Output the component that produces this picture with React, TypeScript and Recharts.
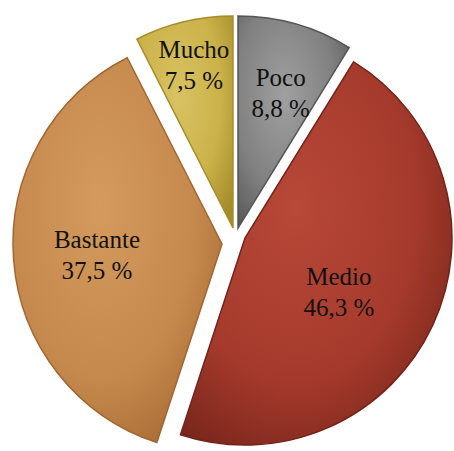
import { PieChart, Pie, Cell } from "recharts"

const categories = ["Poco", "Medio", "Bastante", "Mucho"]
const percents = [8.8, 46.3, 37.5, 7.5]
const percentLabels = ["8,8 %", "46,3 %", "37,5 %", "7,5 %"]

const data = categories.map((name, i) => ({ name, value: percents[i], label: percentLabels[i] }))

// look of each slice (style only)
const GRADIENTS = [
  { id: "g-poco", light: "#a0a0a0", base: "#808080", dark: "#555555" },
  { id: "g-medio", light: "#b84838", base: "#a53a2c", dark: "#74231a" },
  { id: "g-bastante", light: "#d49a5e", base: "#c6894d", dark: "#a36630" },
  { id: "g-mucho", light: "#d9c262", base: "#cbb24a", dark: "#a68d2a" },
]
// exploded centre of every slice, its radius, and where its label sits
const CENTERS = [
  [238, 228],
  [245, 238],
  [222, 244],
  [233, 228],
]
const RADII = [212, 207, 209, 212]
const LABEL_R = [0.67, 0.5, 0.6, 0.79]
const LABEL_SHIFT = [[4, 0], [0, 8], [0, -1], [0, -2]]
const RAD = Math.PI / 180
const FONT = "Liberation Serif, Times New Roman, DejaVu Serif, serif"

function makeLabel(slice: number) {
  return (props: any) => {
    const { cx, cy, midAngle, outerRadius, index } = props
    if (index !== slice) return null
    const r = outerRadius * LABEL_R[slice]
    const x = cx + r * Math.cos(-midAngle * RAD) + LABEL_SHIFT[slice][0]
    const y = cy + r * Math.sin(-midAngle * RAD) + LABEL_SHIFT[slice][1]
    return (
      <text x={x} y={y} textAnchor="middle" fill="#111" style={{ fontFamily: FONT, fontSize: 25 }}>
        <tspan x={x} dy={-5}>{data[index].name}</tspan>
        <tspan x={x} dy={31}>{data[index].label}</tspan>
      </text>
    )
  }
}

export default function App() {
  return (
    <div style={{ width: 454, height: 451, background: "#fff" }}>
      <style>{"body{margin:0}"}</style>
      <PieChart width={454} height={451} margin={{ top: 0, right: 0, bottom: 0, left: 0 }}>
        <defs>
          {GRADIENTS.map(g => (
            <radialGradient key={g.id} id={g.id} cx="0.42" cy="0.38" r="0.75">
              <stop offset="0%" stopColor={g.light} />
              <stop offset="60%" stopColor={g.base} />
              <stop offset="100%" stopColor={g.dark} />
            </radialGradient>
          ))}
        </defs>
        {categories.map((cat, slice) => (
          <Pie
            key={cat}
            data={data}
            dataKey="value"
            nameKey="name"
            cx={CENTERS[slice][0]}
            cy={CENTERS[slice][1]}
            outerRadius={RADII[slice]}
            innerRadius={0}
            startAngle={90}
            endAngle={-270}
            isAnimationActive={false}
            labelLine={false}
            label={makeLabel(slice)}
          >
            {data.map((d, i) => (
              <Cell
                key={d.name}
                fill={i === slice ? `url(#${GRADIENTS[i].id})` : "none"}
                stroke={i === slice ? GRADIENTS[i].dark : "none"}
                strokeWidth={1.5}
              />
            ))}
          </Pie>
        ))}
      </PieChart>
    </div>
  )
}
